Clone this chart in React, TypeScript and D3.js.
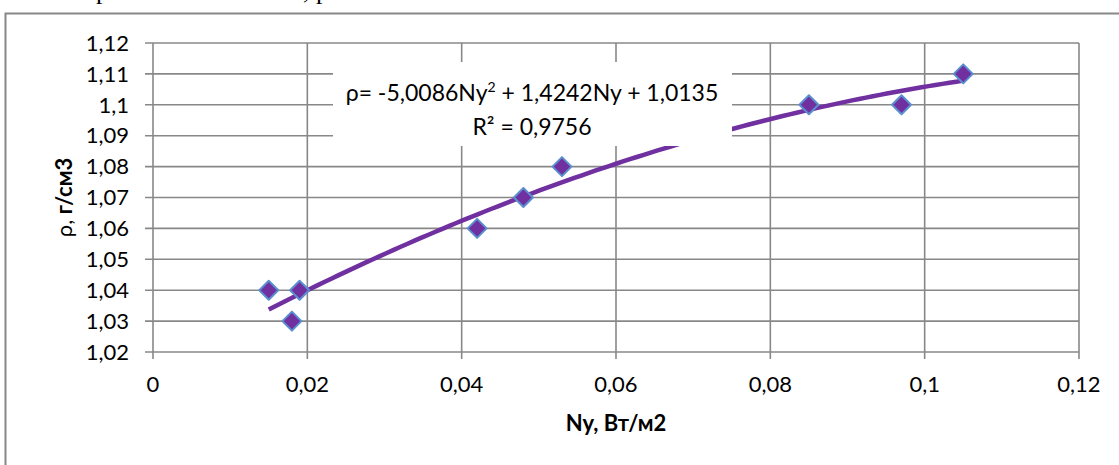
import React from "react";
import * as d3 from "d3";

const xValues = [0.015, 0.018, 0.019, 0.042, 0.048, 0.053, 0.085, 0.097, 0.105];
const yValues = [1.04, 1.03, 1.04, 1.06, 1.07, 1.08, 1.1, 1.1, 1.11];
const xTicks = [0, 0.02, 0.04, 0.06, 0.08, 0.1, 0.12];
const yTicks = [1.02, 1.03, 1.04, 1.05, 1.06, 1.07, 1.08, 1.09, 1.1, 1.11, 1.12];
const coefA = -5.0086;
const coefB = 1.4242;
const coefC = 1.0135;
const fitRange = [0.015, 0.105];

const W = 1119;
const H = 465;
const FONT = "Lato, 'Open Sans', sans-serif";
const GRID = "#888888";
const PURPLE = "#7030A0";

const fmt = (v: number) => String(+v.toFixed(4)).replace(".", ",");

export default function App() {
  const x = d3.scaleLinear().domain([0, 0.12]).range([153, 1079]);
  const y = d3.scaleLinear().domain([1.02, 1.12]).range([352, 43]);

  const fitPts: [number, number][] = d3
    .range(0, 101)
    .map((i) => fitRange[0] + ((fitRange[1] - fitRange[0]) * i) / 100)
    .map((v) => [v, coefA * v * v + coefB * v + coefC]);
  const line = d3
    .line<[number, number]>()
    .x((d) => x(d[0]))
    .y((d) => y(d[1]));

  const diamond = (cx: number, cy: number, r: number) =>
    `M${cx},${cy - r}L${cx + r},${cy}L${cx},${cy + r}L${cx - r},${cy}Z`;

  return (
    <svg
      width={W}
      height={H}
      style={{ position: "absolute", left: 0, top: 0, background: "#fff" }}
      fontFamily={FONT}
    >
      <rect x={0} y={0} width={W} height={H} fill="#fff" />
      {/* cut-off text line above the chart */}
      <text x={96} y={-1} fontFamily="'Liberation Serif', serif" fontSize={26} fill="#000">р</text>
      <text x={303} y={-1} fontFamily="'Liberation Serif', serif" fontSize={26} fill="#000">, р</text>

      {/* outer chart border */}
      <rect x={5.5} y={13.5} width={W + 20} height={H + 20} fill="none" stroke={GRID} strokeWidth={2} />

      {/* gridlines */}
      {yTicks.map((t) => (
        <line key={"gy" + t} x1={145} x2={x(0.12)} y1={y(t)} y2={y(t)} stroke={GRID} strokeWidth={1.6} />
      ))}
      {xTicks.map((t) => (
        <line key={"gx" + t} x1={x(t)} x2={x(t)} y1={y(1.12)} y2={y(1.02) + 7} stroke={GRID} strokeWidth={1.6} />
      ))}

      {/* y tick labels */}
      {yTicks.map((t) => (
        <text key={"ly" + t} x={129} y={y(t)} dy="0.35em" textAnchor="end" fontSize={22} fill="#000">
          {fmt(t)}
        </text>
      ))}
      {/* x tick labels */}
      {xTicks.map((t) => (
        <text key={"lx" + t} x={x(t)} y={392} textAnchor="middle" fontSize={22} fill="#000">
          {fmt(t)}
        </text>
      ))}

      {/* axis titles */}
      <text x={616} y={431} textAnchor="middle" fontSize={22} fontWeight="bold" fill="#000">
        Ny, Вт/м2
      </text>
      <text
        transform={`translate(72,${(43 + 352) / 2}) rotate(-90)`}
        textAnchor="middle"
        fontSize={22}
        fill="#000"
      >
        ρ, <tspan fontWeight="bold">г/см3</tspan>
      </text>

      {/* trend line */}
      <path d={line(fitPts) || ""} fill="none" stroke={PURPLE} strokeWidth={4.5} />

      {/* markers */}
      {xValues.map((v, i) => (
        <path
          key={"m" + i}
          d={diamond(x(v), y(yValues[i]), 9.5)}
          fill={PURPLE}
          stroke="#5B8FD0"
          strokeWidth={2}
          strokeLinejoin="round"
        />
      ))}

      {/* trendline label */}
      <rect x={333} y={62} width={399} height={84} fill="#fff" />
      <text x={532} y={101} textAnchor="middle" fontSize={23} fill="#000">
        ρ= -5,0086Ny<tspan fontSize={14} dy={-9}>2</tspan>
        <tspan dy={9}> + 1,4242Ny + 1,0135</tspan>
      </text>
      <text x={532} y={135} textAnchor="middle" fontSize={23} fill="#000">
        R² = 0,9756
      </text>
    </svg>
  );
}
